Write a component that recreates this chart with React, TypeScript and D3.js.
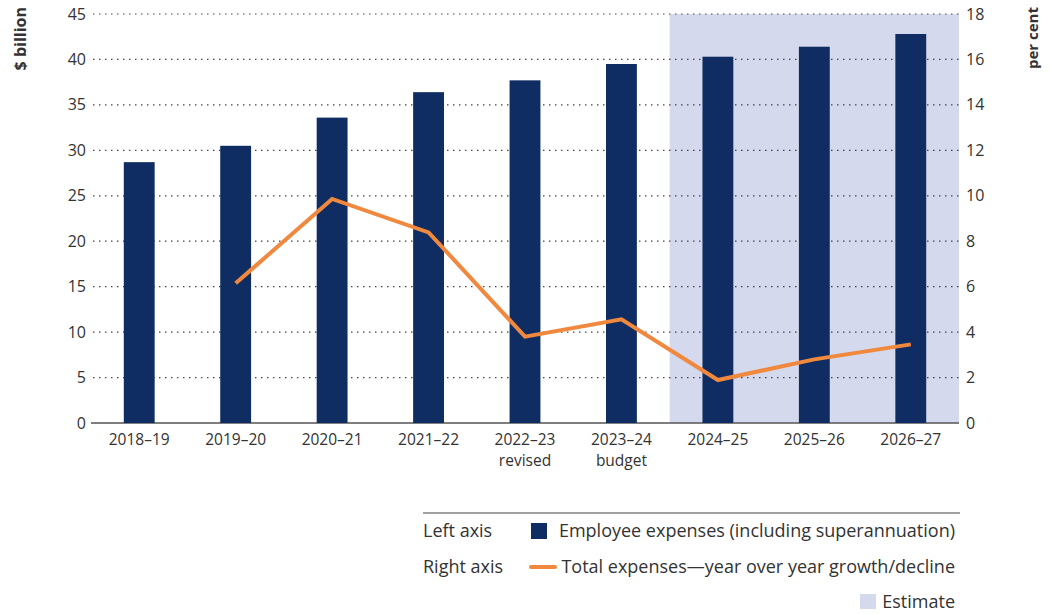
import * as d3 from 'd3';

const years = ['2018–19', '2019–20', '2020–21', '2021–22', '2022–23', '2023–24', '2024–25', '2025–26', '2026–27'];
const subLabels = ['', '', '', '', 'revised', 'budget', '', '', ''];
const employeeExpenses = [28.7, 30.5, 33.6, 36.4, 37.7, 39.5, 40.3, 41.4, 42.8];
const growth: (number | null)[] = [null, 6.15, 9.86, 8.39, 3.8, 4.56, 1.89, 2.8, 3.46];
const estimateYears = ['2024–25', '2025–26', '2026–27'];
const leftTicks = [0, 5, 10, 15, 20, 25, 30, 35, 40, 45];
const rightTicks = [0, 2, 4, 6, 8, 10, 12, 14, 16, 18];

const W = 1050, H = 614;
const left = 91, right = 959, top = 14, bottom = 423;
const font = '"Open Sans", sans-serif';
const navy = '#0f2d62';
const orange = '#f0883e';
const shade = '#d5d9ed';
const txt = '#333';

const App = () => {
    const x = d3.scaleBand<string>().domain(years).range([left, right]).paddingInner(0.68).paddingOuter(0.34);
    const yL = d3.scaleLinear().domain([0, 45]).range([bottom, top]);
    const yR = d3.scaleLinear().domain([0, 18]).range([bottom, top]);
    const step = x.step();
    const cx = (d: string) => (x(d) ?? 0) + x.bandwidth() / 2;

    // estimate shading starts halfway between the last actual and first estimate year
    const shadeX0 = cx(estimateYears[0]) - step / 2;

    const line = d3.line<[string, number | null]>()
        .defined(d => d[1] !== null)
        .x(d => cx(d[0]))
        .y(d => yR(d[1] as number));
    const lineData: [string, number | null][] = years.map((y, i) => [y, growth[i]]);

    return (
        <svg width={W} height={H} style={{display: 'block', position: 'absolute', left: 0, top: 0}} fontFamily={font}>
            <rect x={shadeX0} y={top} width={right - shadeX0} height={bottom - top} fill={shade} />

            {leftTicks.filter(t => t > 0).map(t => (
                <line key={t} x1={left + 2} x2={right} y1={yL(t)} y2={yL(t)} stroke="#444" strokeWidth={1.2} strokeDasharray="1.5 4.5" />
            ))}
            <line x1={left} x2={right} y1={bottom} y2={bottom} stroke="#555" strokeWidth={1.5} />

            {leftTicks.map(t => (
                <text key={t} x={86} y={yL(t)} dy="0.35em" textAnchor="end" fontSize={16} fill={txt}>{t}</text>
            ))}
            {rightTicks.map(t => (
                <text key={t} x={966} y={yR(t)} dy="0.35em" textAnchor="start" fontSize={16} fill={txt}>{t}</text>
            ))}

            <text transform="translate(26,7) rotate(-90)" textAnchor="end" fontSize={16} fontWeight="bold" fill={txt}>$ billion</text>
            <text transform="translate(1038,7) rotate(-90)" textAnchor="end" fontSize={15} fontWeight="bold" fill={txt}>per cent</text>

            {years.map((y, i) => (
                <rect key={y} x={x(y)} y={yL(employeeExpenses[i])} width={x.bandwidth()} height={bottom - yL(employeeExpenses[i])} fill={navy} />
            ))}

            <path d={line(lineData) ?? ''} fill="none" stroke={orange} strokeWidth={4} strokeLinejoin="miter" />

            {years.map((y, i) => (
                <g key={y}>
                    <text x={cx(y)} y={440} dy="0.35em" textAnchor="middle" fontSize={15.5} fill={txt}>{y}</text>
                    {subLabels[i] && <text x={cx(y)} y={461} dy="0.35em" textAnchor="middle" fontSize={15.5} fill={txt}>{subLabels[i]}</text>}
                </g>
            ))}

            <line x1={423} x2={960} y1={513} y2={513} stroke="#444" strokeWidth={1} />
            <text x={423} y={531} dy="0.35em" fontSize={18} fill={txt}>Left axis</text>
            <rect x={531} y={523} width={16} height={16} fill={navy} />
            <text x={955} y={531} dy="0.35em" textAnchor="end" fontSize={18} fill={txt}>Employee expenses (including superannuation)</text>
            <text x={423} y={567} dy="0.35em" fontSize={18} fill={txt}>Right axis</text>
            <line x1={531} x2={555} y1={567} y2={567} stroke={orange} strokeWidth={4} strokeLinecap="round" />
            <text x={955} y={567} dy="0.35em" textAnchor="end" fontSize={18} fill={txt}>Total expenses—year over year growth/decline</text>
            <rect x={860} y={594} width={16} height={15} fill={shade} />
            <text x={955} y={602} dy="0.35em" textAnchor="end" fontSize={18} fill={txt}>Estimate</text>
        </svg>
    );
};

export default App;
